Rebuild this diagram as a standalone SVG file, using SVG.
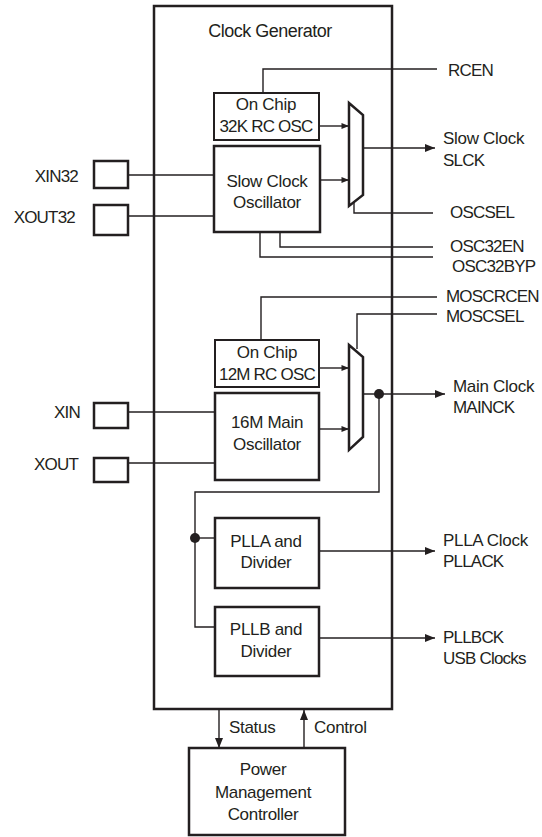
<svg xmlns="http://www.w3.org/2000/svg" width="542" height="837" viewBox="0 0 542 837">
<style>
text{font-family:"Liberation Sans",Arial,Helvetica,sans-serif;font-size:17px;fill:#231f20;letter-spacing:-0.3px}
.k{letter-spacing:-0.8px}
.c{text-anchor:middle}
.e{text-anchor:end}
.box{fill:#fff;stroke:#231f20;stroke-width:2.5}
.thin{fill:#fff;stroke:#231f20;stroke-width:2}
.mux{fill:#fff;stroke:#231f20;stroke-width:2.5;stroke-linejoin:miter}
.ln{fill:none;stroke:#231f20;stroke-width:1.4}
.ar{fill:none;stroke:#231f20;stroke-width:1.4;marker-end:url(#ah)}
.ai{fill:none;stroke:#231f20;stroke-width:1.4;marker-end:url(#as)}
</style>
<defs>
<marker id="ah" viewBox="0 0 10 8" refX="10" refY="4" markerWidth="11" markerHeight="8" orient="auto" markerUnits="userSpaceOnUse"><path d="M0,0 L10,4 L0,8 z" fill="#231f20"/></marker>
<marker id="as" viewBox="0 0 10 8" refX="10" refY="4" markerWidth="8" markerHeight="6" orient="auto" markerUnits="userSpaceOnUse"><path d="M0,0 L10,4 L0,8 z" fill="#231f20"/></marker>
</defs>

<g id="clock-generator">
<rect class="box" x="154" y="6" width="238" height="703"/>
<text class="c" x="270" y="37" style="font-size:18px;letter-spacing:-0.5px">Clock Generator</text>
</g>

<g id="connectors">
<polyline class="ln" points="437,69 263,69 263,93"/>
<line class="ai" x1="319" y1="126" x2="349" y2="126"/>
<line class="ai" x1="320" y1="180" x2="349" y2="180"/>
<line class="ar" x1="363" y1="148" x2="435" y2="148"/>
<polyline class="ln" points="354,201 354,213 433,213"/>
<polyline class="ln" points="280,232 280,247 433,247"/>
<polyline class="ln" points="260,232 260,257 433,257"/>
<line class="ln" x1="128" y1="175" x2="214" y2="175"/>
<line class="ln" x1="128" y1="216" x2="214" y2="216"/>
<polyline class="ln" points="437,297 261,297 261,340"/>
<polyline class="ln" points="437,314 357,314 357,349"/>
<line class="ai" x1="319" y1="368" x2="349" y2="368"/>
<line class="ai" x1="319" y1="429" x2="349" y2="429"/>
<line class="ar" x1="363" y1="394" x2="445" y2="394"/>
<line class="ln" x1="128" y1="412" x2="215" y2="412"/>
<line class="ln" x1="128" y1="463" x2="215" y2="463"/>
<polyline class="ln" points="379,394 379,492 195,492 195,627 215,627"/>
<line class="ln" x1="195" y1="538" x2="215" y2="538"/>
<circle cx="379" cy="394" r="5" fill="#231f20"/>
<circle cx="195" cy="538" r="5" fill="#231f20"/>
<line class="ar" x1="319" y1="551" x2="435" y2="551"/>
<line class="ar" x1="319" y1="638" x2="435" y2="638"/>
<line class="ar" x1="219" y1="709" x2="219" y2="748"/>
<line class="ar" x1="304" y1="748" x2="304" y2="710"/>
</g>

<g id="rc32k">
<rect class="thin" x="214" y="93" width="105" height="47"/>
<text class="c" x="266" y="110">On Chip</text>
<text class="c k" x="266" y="132">32K RC OSC</text>
</g>
<g id="slow-osc">
<rect class="box" x="214" y="146" width="106" height="86"/>
<text class="c" x="267" y="187">Slow Clock</text>
<text class="c" x="267" y="208">Oscillator</text>
</g>
<g id="slow-mux">
<polygon class="mux" points="349,103 363,115 363,195 349,206"/>
</g>
<g id="pin-xin32">
<rect class="box" x="94" y="161" width="34" height="27"/>
<text class="e k" x="78" y="182">XIN32</text>
</g>
<g id="pin-xout32">
<rect class="box" x="94" y="205" width="34" height="30"/>
<text class="e k" x="75" y="223">XOUT32</text>
</g>
<g id="rc12m">
<rect class="thin" x="215" y="340" width="104" height="47"/>
<text class="c" x="267" y="358">On Chip</text>
<text class="c k" x="267" y="380">12M RC OSC</text>
</g>
<g id="main-osc">
<rect class="box" x="215" y="393" width="104" height="87"/>
<text class="c" x="267" y="428">16M Main</text>
<text class="c" x="267" y="450">Oscillator</text>
</g>
<g id="main-mux">
<polygon class="mux" points="349,345 363,357 363,437 349,450"/>
</g>
<g id="pin-xin">
<rect class="box" x="94" y="403" width="34" height="25"/>
<text class="e k" x="80" y="418">XIN</text>
</g>
<g id="pin-xout">
<rect class="box" x="94" y="458" width="34" height="24"/>
<text class="e k" x="78" y="470">XOUT</text>
</g>
<g id="plla">
<rect class="box" x="215" y="518" width="104" height="70"/>
<text class="c" x="266" y="547">PLLA and</text>
<text class="c" x="266" y="568">Divider</text>
</g>
<g id="pllb">
<rect class="box" x="215" y="607" width="104" height="69"/>
<text class="c" x="266" y="635">PLLB and</text>
<text class="c" x="266" y="657">Divider</text>
</g>
<g id="pmc">
<rect class="box" x="189" y="748" width="156" height="87"/>
<text class="c" x="263" y="775">Power</text>
<text class="c" x="263" y="798">Management</text>
<text class="c" x="263" y="820">Controller</text>
</g>

<g id="labels">
<text class="k" x="448" y="76">RCEN</text>
<text x="443" y="144">Slow Clock</text>
<text class="k" x="443" y="166">SLCK</text>
<text class="k" x="450" y="218">OSCSEL</text>
<text class="k" x="450" y="252">OSC32EN</text>
<text class="k" x="452" y="272">OSC32BYP</text>
<text class="k" x="446" y="302">MOSCRCEN</text>
<text class="k" x="446" y="322">MOSCSEL</text>
<text x="453" y="392">Main Clock</text>
<text class="k" x="453" y="413">MAINCK</text>
<text x="443" y="546">PLLA Clock</text>
<text class="k" x="443" y="567">PLLACK</text>
<text class="k" x="443" y="643">PLLBCK</text>
<text class="k" x="443" y="664">USB Clocks</text>
<text x="229" y="733">Status</text>
<text x="314" y="733">Control</text>
</g>
</svg>
